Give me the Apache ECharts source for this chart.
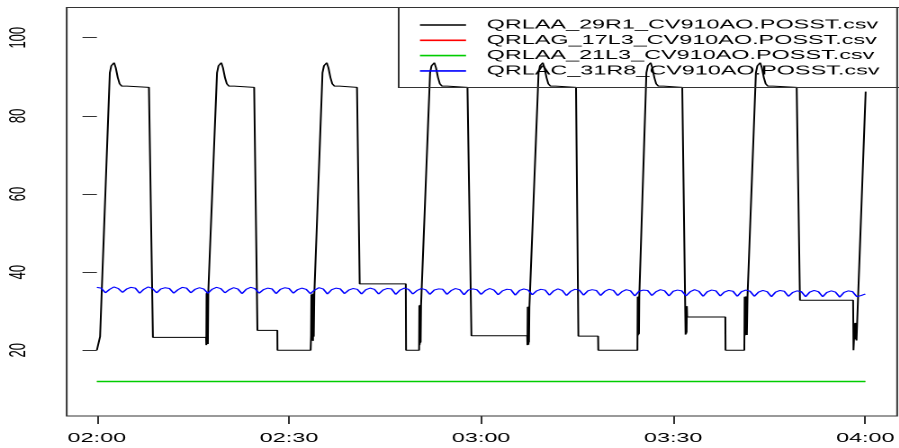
<!DOCTYPE html>
<html><head><meta charset="utf-8">
<script src="https://cdn.jsdelivr.net/npm/echarts@6/dist/echarts.min.js"></script>
<style>
html,body{margin:0;padding:0;background:#fff;overflow:hidden;width:899px;height:448px}
#wrap{width:899px;height:448px;overflow:hidden;position:relative;background:#fff}
#chart{position:absolute;left:0;top:0;width:499.5px;height:448px;transform:scaleX(1.8);transform-origin:0 0}
</style></head><body><div id="wrap"><div id="chart"></div></div>
<script>
// Time is given in minutes after 02:00
const xTickValues = [0, 30, 60, 90, 120];
const xTickLabels = ['02:00', '02:30', '03:00', '03:30', '04:00'];
const yTickValues = [20, 40, 60, 80, 100];

const seriesNames = [
  'QRLAA_29R1_CV910AO.POSST.csv',
  'QRLAG_17L3_CV910AO.POSST.csv',
  'QRLAA_21L3_CV910AO.POSST.csv',
  'QRLAC_31R8_CV910AO.POSST.csv'
];
const seriesColors = ['#000000', '#FF0000', '#00CD00', '#0000FF'];

const blackTimes = [
  0.00,0.45,0.50,2.02,2.25,2.69,2.95,3.26,3.55,3.89,4.29,4.69,5.09,8.13,8.75,
  17.05,17.09,17.13,17.17,17.21,17.25,17.29,17.33,17.40,
  18.76,18.99,19.43,19.69,20.00,20.29,20.63,21.03,21.43,21.83,24.56,25.07,28.18,28.20,
  33.38,33.45,33.50,33.55,33.60,33.65,33.70,33.75,33.80,33.87,33.95,
  35.23,35.46,35.90,36.16,36.47,36.76,37.10,37.50,37.90,38.30,40.62,41.04,48.24,48.28,
  50.32,50.36,50.40,50.44,50.48,50.52,50.56,50.62,
  52.03,52.26,52.70,52.96,53.27,53.56,53.90,54.30,54.70,55.10,57.87,58.49,
  67.20,67.24,67.28,67.32,67.36,67.40,67.44,67.48,67.54,
  68.97,69.20,69.64,69.90,70.21,70.50,70.84,71.24,71.64,72.04,74.82,75.19,78.27,78.30,
  84.41,84.45,84.49,84.53,84.57,84.61,84.65,84.70,
  85.81,86.04,86.48,86.74,87.05,87.34,87.68,88.08,88.48,88.88,91.41,
  91.93,91.97,92.01,92.05,92.09,92.13,92.18,98.14,98.17,
  101.10,101.15,101.20,101.25,101.30,101.35,101.40,101.45,101.50,101.60,
  102.91,103.14,103.58,103.84,104.15,104.44,104.78,105.18,105.58,105.98,109.28,109.79,118.09,118.15,
  118.30,118.35,118.40,118.45,118.50,118.55,118.62,120.05
];
const blackValues = [
  20.0,20.0,23.5,91.0,92.8,93.6,92.3,89.8,88.2,87.6,87.4,87.6,87.3,87.3,23.3,
  23.3,21.3,34.6,21.8,34.9,22.2,34.4,21.6,35.0,
  91.0,92.8,93.6,92.3,89.8,88.2,87.6,87.4,87.6,87.3,87.3,25.1,25.1,20.0,
  20.0,23.8,34.3,22.5,34.0,23.0,34.5,22.4,33.8,23.5,34.2,
  91.0,92.8,93.6,92.3,89.8,88.2,87.6,87.4,87.6,87.3,87.3,37.0,37.0,20.0,
  20.0,31.5,21.3,31.2,21.8,31.6,22.0,31.5,
  91.0,92.8,93.6,92.3,89.8,88.2,87.6,87.4,87.6,87.3,87.3,23.7,
  23.7,21.3,31.1,21.6,30.8,21.4,31.2,22.0,31.0,
  91.0,92.8,93.6,92.3,89.8,88.2,87.6,87.4,87.6,87.3,87.3,23.6,23.6,20.0,
  20.0,33.7,23.8,33.5,24.0,33.8,24.2,33.7,
  91.0,92.8,93.6,92.3,89.8,88.2,87.6,87.4,87.6,87.3,87.3,
  24.0,31.2,24.2,31.0,24.5,31.3,28.5,28.5,20.0,
  20.0,33.7,23.8,33.5,24.0,33.8,24.1,33.6,23.9,33.7,
  91.0,92.8,93.6,92.3,89.8,88.2,87.6,87.4,87.6,87.3,87.3,32.8,32.8,20.0,
  20.0,26.9,23.0,27.0,22.8,26.8,22.5,86.2
];

// Red is fully hidden under green in the reference (same constant level)
const redTimes = [0, 120];
const redValues = [12, 12];
const greenTimes = [0, 120];
const greenValues = [12, 12];

// Blue series: one sample every 40 s from 02:00 to 04:00
const blueStepMinutes = 40 / 60;
const blueValues = [
  36.1,35.9,34.7,35.6, 36.2,35.8,34.8,35.7, 36.1,35.9,34.6,35.6, 36.2,35.8,34.7,35.7,
  36.0,35.8,34.6,35.5, 36.1,35.9,34.7,35.6, 36.0,35.7,34.6,35.6, 36.1,35.8,34.7,35.5,
  36.0,35.7,34.5,35.6, 36.1,35.8,34.6,35.5, 35.9,35.7,34.5,35.6, 36.0,35.8,34.6,35.5,
  35.9,35.6,34.5,35.4, 36.0,35.7,34.4,35.5, 35.9,35.7,34.5,35.4, 35.8,35.6,34.4,35.5,
  35.9,35.6,34.4,35.4, 35.8,35.7,34.3,35.4, 35.9,35.6,34.4,35.3, 35.8,35.5,34.3,35.4,
  35.7,35.6,34.3,35.3, 35.8,35.5,34.2,35.4, 35.7,35.5,34.3,35.3, 35.8,35.4,34.2,35.2,
  35.6,35.5,34.1,35.3, 35.7,35.4,34.2,35.2, 35.6,35.4,34.1,35.2, 35.7,35.3,34.0,35.1,
  35.6,35.4,34.1,35.2, 35.5,35.3,34.0,35.1, 35.6,35.3,34.0,35.0, 35.5,35.2,33.9,35.1,
  35.4,35.3,34.0,35.0, 35.5,35.2,33.9,35.1, 35.4,35.2,33.9,35.0, 35.5,35.1,33.8,35.0,
  35.4,35.2,33.9,34.9, 35.3,35.1,33.8,35.0, 35.4,35.1,33.8,34.9, 35.3,35.0,33.7,34.9,
  35.3,35.1,33.8,34.8, 35.2,35.0,33.7,34.9, 35.3,35.0,33.7,34.8, 35.2,34.9,33.6,34.8,
  35.2,35.0,33.7,34.0, 34.4
];

function pairs(ts, vs) { return ts.map((t, i) => [t, vs[i]]); }
const blueData = blueValues.map((v, i) => [i * blueStepMinutes, v]);

const FONT = '"Liberation Sans", Arial, sans-serif';
const chart = echarts.init(document.getElementById('chart'), null, {renderer: 'canvas', devicePixelRatio: 2});

const lineSeries = (name, data, color, z, width) => ({
  name, type: 'line', data, symbol: 'none', showSymbol: false, z,
  lineStyle: {color, width: width || 1}, itemStyle: {color},
  emphasis: {disabled: true}, silent: true, animation: false
});

chart.setOption({
  animation: false,
  backgroundColor: '#fff',
  grid: {left: 37.06, right: -1, top: 7.5, bottom: 32, show: true, borderColor: '#333', borderWidth: 1, backgroundColor: 'transparent'},
  xAxis: {
    type: 'value', min: -4.71, max: 124.97,
    axisLine: {show: false},
    splitLine: {show: false},
    axisTick: {show: true, length: 8, lineStyle: {color: '#333'}, customValues: xTickValues},
    axisLabel: {
      customValues: xTickValues, margin: 16, fontSize: 13, color: '#000', fontFamily: FONT,
      formatter: v => xTickLabels[xTickValues.indexOf(Math.round(v))] || ''
    }
  },
  yAxis: {
    type: 'value', min: 3.17, max: 107.73,
    axisLine: {show: false},
    splitLine: {show: false},
    axisTick: {show: true, length: 8, lineStyle: {color: '#333'}, customValues: yTickValues},
    axisLabel: {customValues: yTickValues, rotate: 90, margin: 20, fontSize: 13, color: '#000', fontFamily: FONT}
  },
  legend: {
    data: seriesNames.map((n, i) => ({name: n, icon: 'rect', itemStyle: {color: seriesColors[i]}})),
    orient: 'vertical', left: 233.3, top: 17.35, padding: 0,
    itemWidth: 25.6, itemHeight: 1.6, itemGap: 0,
    selectedMode: false,
    textStyle: {fontSize: 13, lineHeight: 15.3, color: '#000', fontFamily: FONT, padding: [0, 0, 0, 6.5]}
  },
  graphic: [{
    type: 'rect', silent: true, z: 100,
    shape: {x: 221.5, y: 7.5, width: 300, height: 80},
    style: {fill: null, stroke: '#333', lineWidth: 1}
  }],
  series: [
    lineSeries(seriesNames[0], pairs(blackTimes, blackValues), seriesColors[0], 2, 1),
    lineSeries(seriesNames[1], pairs(redTimes, redValues), seriesColors[1], 3, 0.8),
    lineSeries(seriesNames[2], pairs(greenTimes, greenValues), seriesColors[2], 4, 1.4),
    lineSeries(seriesNames[3], blueData, seriesColors[3], 5, 1)
  ]
});
</script></body></html>
